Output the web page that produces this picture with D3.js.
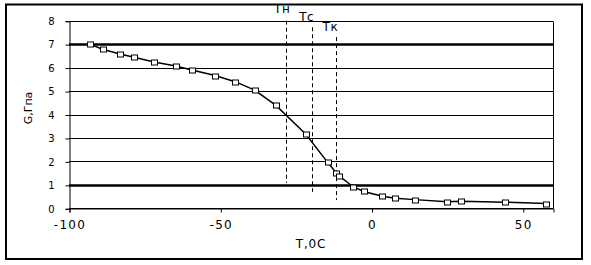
<!DOCTYPE html>
<html><head><meta charset="utf-8">
<script src="https://cdn.jsdelivr.net/npm/d3@7"></script>
<style>body{margin:0;background:#fff}svg{display:block}text{font-family:"DejaVu Sans",sans-serif;fill:#000}</style>
</head><body><svg id="c" width="591" height="265"></svg>
<script>
const temps = [-93.1, -88.9, -83.2, -78.5, -71.9, -64.7, -59.4, -51.7, -45.1, -38.6, -31.6, -21.7, -14.5, -11.6, -10.8, -6.1, -2.6, 3.6, 7.8, 14.3, 25.0, 29.6, 44.1, 57.8];
const gValues = [7.00, 6.78, 6.58, 6.44, 6.24, 6.07, 5.90, 5.66, 5.40, 5.04, 4.39, 3.16, 1.96, 1.50, 1.39, 0.92, 0.72, 0.51, 0.43, 0.37, 0.28, 0.30, 0.26, 0.20];
const xTicks = [-100, -50, 0, 50];
const yTicks = [0, 1, 2, 3, 4, 5, 6, 7, 8];
const thickLines = [7, 1];
const markerNames = ["Тн", "Тс", "Тк"];
const markerT = [-28.2, -19.8, -11.6];
const markerTop = [8, 7.72, 7.3];
const markerBottom = [1.08, 0.7, 0.35];
const xTitle = "T,0C";
const yTitle = "G,Гпа";

const svg = d3.select("#c");
const L = 69, R = 553, T = 20.7, B = 208.3;
const x = d3.scaleLinear().domain([-100, 60]).range([L, R]);
const y = d3.scaleLinear().domain([0, 8]).range([B, T]);

// outer frame
svg.append("rect").attr("x", 6).attr("y", 4.5).attr("width", 576).attr("height", 254.5)
  .attr("fill", "none").attr("stroke", "#000").attr("stroke-width", 2);

// gridlines
svg.append("g").selectAll("line").data(yTicks).join("line")
  .attr("x1", L).attr("x2", R)
  .attr("y1", d => Math.round(y(d)) + 0.5).attr("y2", d => Math.round(y(d)) + 0.5)
  .attr("stroke", "#000").attr("stroke-width", d => thickLines.includes(d) ? 2.5 : 1);
// right border
svg.append("line").attr("x1", R + 0.5).attr("x2", R + 0.5).attr("y1", Math.round(T) + 0.5).attr("y2", Math.round(B) + 0.5)
  .attr("stroke", "#000");

// axes
const yAxis = d3.axisLeft(y).tickValues(yTicks).tickSize(4).tickPadding(11).tickFormat(d3.format("d"));
const gy = svg.append("g").attr("transform", `translate(${L + 0.5},0.5)`).call(yAxis);
gy.selectAll("text").style("font-size", "10px").attr("font-family", "DejaVu Sans");
const xAxis = d3.axisBottom(x).tickValues(xTicks).tickSize(4).tickPadding(8).tickFormat(d => d < 0 ? "-" + Math.abs(d) : d);
const gx = svg.append("g").attr("transform", `translate(0.5,${Math.round(B) + 0.5})`).call(xAxis);
gx.selectAll("text").style("font-size", "12px").attr("font-family", "DejaVu Sans").style("letter-spacing", "1.3px");
svg.selectAll(".domain").attr("stroke", "#000");
svg.selectAll(".tick line").attr("stroke", "#000");

// titles
svg.append("text").attr("x", 311).attr("y", 248).attr("text-anchor", "middle")
  .style("font-size", "12px").style("letter-spacing", "0.8px").text(xTitle);
svg.append("text").attr("transform", "translate(32,108) rotate(-90)").attr("text-anchor", "middle")
  .style("font-size", "11px").text(yTitle);

// dashed reference lines
svg.append("g").selectAll("line").data(markerT).join("line")
  .attr("x1", d => Math.round(x(d)) + 0.5).attr("x2", d => Math.round(x(d)) + 0.5)
  .attr("y1", (d, i) => y(markerTop[i])).attr("y2", (d, i) => y(markerBottom[i]))
  .attr("stroke", "#000").attr("stroke-dasharray", "4,3");
const labOff = [[-4, 13], [-5, 21], [-6, 31]];
svg.append("g").selectAll("text").data(markerNames).join("text")
  .attr("x", (d, i) => x(markerT[i]) + labOff[i][0]).attr("y", (d, i) => labOff[i][1])
  .attr("text-anchor", "middle").style("font-size", "12px").style("letter-spacing", "0.5px").text(d => d);

// series line
const pts = temps.map((t, i) => [t, gValues[i]]);
svg.append("path").datum(pts)
  .attr("d", d3.line().x(d => x(d[0])).y(d => y(d[1])))
  .attr("fill", "none").attr("stroke", "#000").attr("stroke-width", 1.5);
svg.append("g").selectAll("rect").data(pts).join("rect")
  .attr("x", d => Math.round(x(d[0])) - 2.5).attr("y", d => Math.round(y(d[1])) - 2)
  .attr("width", 6).attr("height", 5)
  .attr("fill", "#fff").attr("stroke", "#000").attr("stroke-width", 1);
</script></body></html>
